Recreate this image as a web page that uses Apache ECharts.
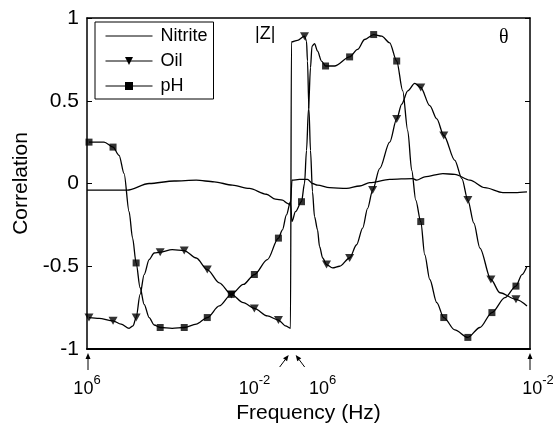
<!DOCTYPE html>
<html>
<head>
<meta charset="utf-8">
<script src="https://cdn.jsdelivr.net/npm/echarts@6/dist/echarts.min.js"></script>
<style>
  html, body { margin: 0; padding: 0; background: #fff; }
  #chart { width: 553px; height: 430px; }
</style>
</head>
<body>
<div id="chart"></div>
<script>
// x = position along the sweep in % (|Z| block 10^6 -> 10^-2, then θ block 10^6 -> 10^-2)
const junctionX = 46.2;

const nitriteX = [0, 9.05, 14.03, 19.68, 24.66, 28.73, 32.81, 36.65, 40.5, 42.53, 44.12, 45.25, 45.93,
  46.27, 47.96, 49.77, 50.9, 52.04, 54.75, 58.6, 61.54, 63.8, 68.33, 73.53, 74.43, 76.24, 80.32, 83.03,
  86.43, 89.82, 93.89, 96.61, 99.32];
const nitriteY = [-0.04, -0.04, 0.0, 0.015, 0.02, 0.01, -0.01, -0.03, -0.065, -0.095, -0.1, -0.12, -0.13,
  0.02, 0.025, 0.025, 0.0, -0.01, -0.025, -0.03, -0.015, 0.005, 0.025, 0.03, 0.02, 0.04, 0.06, 0.055,
  0.02, -0.025, -0.055, -0.055, -0.05];

const oilX = [0.45, 2.71, 5.88, 7.69, 9.5, 10.41, 11.09, 11.99, 12.9, 14.03, 15.16, 16.52, 19.23, 21.95,
  24.66, 27.15, 29.86, 32.58, 35.29, 37.78, 40.72, 43.21, 44.8, 45.93,
  46.15, 47.51, 49.1, 49.55, 49.77, 50.1, 50.45, 50.9, 51.36, 52.04, 52.49, 53.2, 54.07, 55.43, 57.01,
  59.28, 60.86, 62.22, 63.35, 64.48, 66.06, 68.33, 69.91, 71.04, 72.4, 73.98, 75.34, 77.38, 78.96,
  80.54, 83.03, 84.62, 85.97, 87.33, 88.69, 91.18, 93.21, 96.83, 99.32];
const oilY = [-0.81, -0.815, -0.83, -0.85, -0.875, -0.86, -0.81, -0.67, -0.55, -0.46, -0.42, -0.415, -0.4, -0.405,
  -0.45, -0.52, -0.6, -0.67, -0.72, -0.755, -0.8, -0.825, -0.86, -0.875,
  0.855, 0.865, 0.89, 0.86, 0.74, 0.45, 0.2, -0.05, -0.2, -0.28, -0.38, -0.45, -0.49, -0.51, -0.5,
  -0.45, -0.37, -0.27, -0.15, -0.04, 0.09, 0.25, 0.39, 0.48, 0.56, 0.605, 0.58, 0.47, 0.39,
  0.29, 0.14, 0.03, -0.1, -0.24, -0.39, -0.58, -0.66, -0.7, -0.74];
const oilMarkX = [0.45, 5.88, 11.09, 16.52, 21.95, 27.15, 32.58, 37.78, 43.21,
  49.1, 54.07, 59.28, 64.48, 69.91, 75.34, 80.54, 85.97, 91.18, 96.83];
const oilMarkY = [-0.81, -0.83, -0.81, -0.415, -0.405, -0.52, -0.67, -0.755, -0.825,
  0.89, -0.49, -0.45, -0.04, 0.39, 0.58, 0.29, -0.1, -0.58, -0.7];

const phX = [0.45, 3.85, 5.88, 7.24, 8.37, 9.5, 10.29, 11.09, 11.99, 12.9, 14.03, 15.16, 16.52, 19.23,
  21.95, 24.66, 27.15, 29.86, 32.58, 35.29, 37.78, 40.72, 43.21, 44.12, 45.02, 45.93,
  46.27, 47.06, 48.42, 49.1, 49.55, 50.0, 50.45, 50.79, 51.36, 52.04, 52.94, 53.85, 55.88, 59.28,
  61.09, 62.67, 64.71, 66.52, 68.33, 69.91, 71.27, 72.4, 73.3, 74.21, 75.34, 76.24, 77.38, 78.96,
  80.54, 83.03, 85.97, 88.69, 91.4, 94.34, 96.83, 98.19, 99.32];
const phY = [0.25, 0.25, 0.22, 0.17, 0.06, -0.17, -0.33, -0.48, -0.63, -0.73, -0.81, -0.855, -0.87, -0.875,
  -0.87, -0.85, -0.81, -0.74, -0.67, -0.61, -0.55, -0.46, -0.33, -0.28, -0.19, -0.11,
  -0.23, -0.17, -0.11, 0.0, 0.2, 0.45, 0.7, 0.83, 0.845, 0.8, 0.74, 0.71, 0.71, 0.765,
  0.81, 0.87, 0.9, 0.89, 0.85, 0.74, 0.56, 0.32, 0.08, -0.1, -0.23, -0.43, -0.58, -0.72,
  -0.81, -0.885, -0.93, -0.87, -0.78, -0.69, -0.62, -0.55, -0.5];
const phMarkX = [0.45, 5.88, 11.09, 16.52, 21.95, 27.15, 32.58, 37.78, 43.21,
  48.42, 53.85, 59.28, 64.71, 69.91, 75.34, 80.54, 85.97, 91.4, 96.83];
const phMarkY = [0.25, 0.22, -0.48, -0.87, -0.87, -0.81, -0.67, -0.55, -0.33,
  -0.11, 0.71, 0.765, 0.9, 0.74, -0.23, -0.81, -0.93, -0.78, -0.62];

const xTickPos = [0, 37.8, 53.2, 100];
const xTickExp = ['6', '-2', '6', '-2'];

const zip = (xs, ys) => xs.map((x, i) => [x, ys[i]]);
const FONT = '"Liberation Sans", Arial, Helvetica, sans-serif';
const downTri = 'path://M0,0 L10,0 L5,9 Z';

const chart = echarts.init(document.getElementById('chart'));

const axisLine = w => ({ show: true, onZero: false, lineStyle: { color: '#000', width: w } });

chart.setOption({
  animation: false,
  textStyle: { fontFamily: FONT, color: '#000' },
  grid: { left: 87, right: 23, top: 18, bottom: 81, outerBoundsMode: 'none' },
  legend: {
    left: 95, top: 22, orient: 'vertical',
    // nitrite is a plain line: hide the legend marker
    data: [{ name: 'Nitrite', itemStyle: { opacity: 0 } }, 'Oil', 'pH'],
    itemWidth: 47, itemHeight: 10, itemGap: 7,
    padding: [5, 6, 4, 10],
    borderColor: '#000', borderWidth: 1, borderRadius: 0, backgroundColor: '#fff',
    lineStyle: { width: 1 },
    textStyle: { fontSize: 18, lineHeight: 18, color: '#000', fontFamily: FONT, padding: [0, 0, 0, 3] }
  },
  xAxis: [{
    type: 'value', min: 0, max: 100, position: 'bottom',
    name: 'Frequency (Hz)', nameLocation: 'middle', nameGap: 50,
    nameTextStyle: { fontSize: 21, color: '#000' },
    axisLine: axisLine(2),
    axisTick: { show: false },
    splitLine: { show: false },
    axisLabel: {
      customValues: xTickPos, margin: 25, color: '#000',
      formatter: v => {
        const i = xTickPos.findIndex(p => Math.abs(p - v) < 0.01);
        if (i < 0) return '';
        const pre = i === xTickPos.length - 1 ? '{sp|}' : '';
        return pre + '{b|10}{s|' + xTickExp[i] + '}';
      },
      rich: {
        b: { fontSize: 18, lineHeight: 24, verticalAlign: 'bottom', fontFamily: FONT, color: '#000' },
        s: { fontSize: 13, lineHeight: 14, verticalAlign: 'top', fontFamily: FONT, color: '#000' },
        sp: { width: 16 }
      }
    }
  }, {
    type: 'value', min: 0, max: 100, position: 'top',
    axisLine: axisLine(1.5), axisTick: { show: false }, axisLabel: { show: false }, splitLine: { show: false }
  }],
  yAxis: [{
    type: 'value', min: -1, max: 1, interval: 0.5,
    name: 'Correlation', nameLocation: 'middle', nameGap: 55,
    nameTextStyle: { fontSize: 21, color: '#000' },
    axisLine: axisLine(1.5),
    axisTick: { inside: true, length: 5, lineStyle: { color: '#000', width: 1 } },
    axisLabel: { fontSize: 21, color: '#000', margin: 8 },
    splitLine: { show: false }
  }, {
    type: 'value', min: -1, max: 1, interval: 0.5, position: 'right',
    axisLine: axisLine(1.5),
    axisTick: { inside: true, length: 5, lineStyle: { color: '#000', width: 1 } },
    axisLabel: { show: false },
    splitLine: { show: false }
  }],
  series: [{
    name: 'Nitrite', type: 'line', data: zip(nitriteX, nitriteY),
    symbol: 'none', smooth: 0.3, smoothMonotone: 'x',
    lineStyle: { color: '#000', width: 1.3 }, itemStyle: { color: '#000' }
  }, {
    name: 'Oil', type: 'line', data: zip(oilX, oilY),
    symbol: downTri, symbolSize: [9, 8], showSymbol: false, smooth: 0.3, smoothMonotone: 'x',
    lineStyle: { color: '#000', width: 1.3 }, itemStyle: { color: '#000' }
  }, {
    name: 'pH', type: 'line', data: zip(phX, phY),
    symbol: 'rect', symbolSize: 7, showSymbol: false, smooth: 0.3, smoothMonotone: 'x',
    lineStyle: { color: '#000', width: 1.3 }, itemStyle: { color: '#000' }
  }, {
    name: 'Oil', type: 'scatter', data: zip(oilMarkX, oilMarkY),
    symbol: downTri, symbolSize: [9, 8], itemStyle: { color: '#000' }, z: 3
  }, {
    name: 'pH', type: 'scatter', data: zip(phMarkX, phMarkY),
    symbol: 'rect', symbolSize: 7, itemStyle: { color: '#000' }, z: 3
  }]
});

// arrows under the frequency axis
function arrow(x1, y1, x2, y2) {
  const dx = x2 - x1, dy = y2 - y1, len = Math.hypot(dx, dy);
  const ux = dx / len, uy = dy / len, hl = 6, hw = 2.5;
  const bx = x2 - ux * hl, by = y2 - uy * hl;
  return [
    { type: 'line', shape: { x1, y1, x2: bx, y2: by }, style: { stroke: '#000', lineWidth: 1 } },
    { type: 'polygon', shape: { points: [[x2, y2], [bx - uy * hw, by + ux * hw], [bx + uy * hw, by - ux * hw]] },
      style: { fill: '#000' } }
  ];
}
const toPx = (x, y) => chart.convertToPixel({ xAxisIndex: 0, yAxisIndex: 0 }, [x, y]);
const [xl, yb] = toPx(0, -1);
const [xr] = toPx(100, -1);
const [xj] = toPx(junctionX, -1);

chart.setOption({
  graphic: [
    ...arrow(xl + 1, yb + 21, xl + 1, yb + 4),
    ...arrow(xr, yb + 21, xr, yb + 4),
    ...arrow(xj - 12, yb + 18, xj - 3, yb + 6),
    ...arrow(xj + 13, yb + 18, xj + 4, yb + 6),
    { type: 'text', left: 255, top: 25, style: { text: '|Z|', fontSize: 18, fontFamily: FONT, fill: '#000' } },
    { type: 'text', left: 499, top: 28, style: { text: 'θ', fontSize: 20, fontFamily: '"Liberation Serif", "DejaVu Serif", serif', fill: '#000' } }
  ]
});
</script>
</body>
</html>
